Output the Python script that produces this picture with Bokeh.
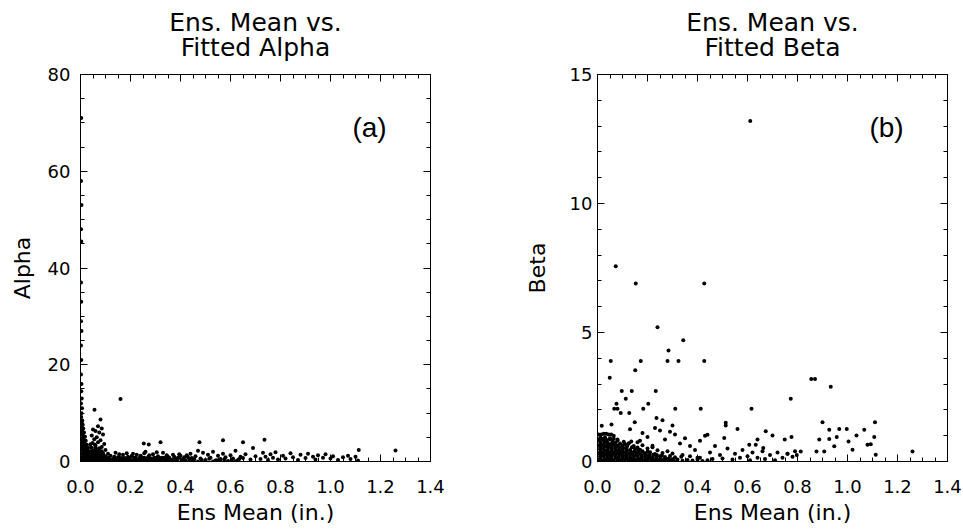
from bokeh.plotting import figure
from bokeh.layouts import row
from bokeh.models import (Range1d, LinearAxis, FixedTicker, Label, Title,
                          CustomLabelingPolicy)
from bokeh.embed import file_html
from bokeh.resources import INLINE

# ---------------- data: panel (a) Ens. Mean vs Fitted Alpha ----------------
alpha_x = [
    0.003, 0.002, 0.004, 0.002, 0.003, 0.002, 0.003, 0.002, 0.004, 0.002, 0.003, 0.002,
    0.004, 0.003, 0.005, 0.002, 0.006, 0.004, 0.003, 0.007, 0.005, 0.009, 0.003, 0.011,
    0.006, 0.014, 0.004, 0.010, 0.018, 0.007, 0.013, 0.021, 0.004, 0.016, 0.009, 0.024,
    0.012, 0.005, 0.019, 0.028, 0.008, 0.015, 0.022, 0.032, 0.006, 0.012, 0.026, 0.018,
    0.035, 0.004, 0.010, 0.022, 0.030, 0.008, 0.016, 0.027, 0.038, 0.005, 0.013, 0.020,
    0.033, 0.040,
    0.160, 0.056, 0.080, 0.070, 0.085, 0.050, 0.060, 0.075, 0.090, 0.045, 0.065, 0.055,
    0.080, 0.070, 0.048, 0.095, 0.060, 0.085, 0.042, 0.075, 0.100, 0.055, 0.068, 0.090,
    0.046, 0.080, 0.100, 0.060, 0.072, 0.050, 0.088, 0.064, 0.095, 0.044, 0.078, 0.110,
    0.105, 0.115,
    0.120, 0.130, 0.140, 0.150, 0.160, 0.170, 0.180, 0.190, 0.200, 0.210, 0.220, 0.230,
    0.240, 0.250, 0.260, 0.270, 0.280, 0.290, 0.300, 0.310, 0.320, 0.330, 0.340, 0.350,
    0.360, 0.370, 0.380, 0.390, 0.400, 0.410, 0.420, 0.430, 0.440, 0.450,
    0.125, 0.135, 0.145, 0.155, 0.165, 0.175, 0.185, 0.195, 0.205, 0.215, 0.225, 0.235,
    0.245, 0.255, 0.265, 0.275, 0.285, 0.295, 0.305, 0.315, 0.325, 0.335, 0.345, 0.355,
    0.365, 0.375, 0.385, 0.395, 0.405, 0.415, 0.425, 0.435, 0.445,
    0.110, 0.140, 0.170, 0.200, 0.230, 0.260, 0.290, 0.320, 0.350, 0.380, 0.410, 0.440,
    0.470, 0.500, 0.530, 0.560, 0.590, 0.620,
    0.253, 0.273, 0.320, 0.476, 0.570, 0.650, 0.736, 1.113, 1.260,
    0.460, 0.470, 0.480, 0.490, 0.500, 0.510, 0.520, 0.530, 0.540, 0.550, 0.560, 0.570,
    0.580, 0.590, 0.600, 0.610, 0.620, 0.630, 0.640, 0.650, 0.660, 0.680, 0.690, 0.700,
    0.720, 0.730, 0.740, 0.750, 0.760, 0.770, 0.780, 0.790, 0.810, 0.820, 0.840, 0.850,
    0.870, 0.880, 0.900, 0.910, 0.930, 0.940, 0.950, 0.970, 0.980, 1.000, 1.010, 1.030,
    1.050, 1.070, 1.080, 1.100, 1.110,
]
alpha_y = [
    71.0, 58.0, 53.0, 48.0, 45.5, 37.0, 33.0, 29.0, 27.0, 24.0, 21.0, 18.0,
    16.0, 14.5, 13.0, 12.0, 11.0, 10.0, 9.2, 8.5, 8.0, 7.6, 7.2, 6.8,
    6.4, 6.0, 5.7, 5.4, 5.1, 4.8, 4.5, 4.3, 4.1, 3.9, 3.6, 3.4,
    3.2, 3.0, 2.8, 2.6, 2.4, 2.2, 2.0, 1.9, 1.7, 1.5, 1.4, 1.2,
    1.1, 0.9, 0.8, 0.7, 0.6, 0.45, 0.35, 0.3, 0.2, 0.15, 0.1, 0.05,
    0.5, 0.9,
    12.9, 10.7, 8.7, 7.3, 6.8, 6.6, 6.3, 6.0, 5.6, 5.4, 5.0, 4.6,
    4.4, 4.0, 3.8, 3.6, 3.3, 3.0, 2.9, 2.6, 2.4, 2.2, 1.9, 1.7,
    1.5, 1.3, 1.1, 1.0, 0.8, 0.6, 0.5, 0.3, 0.2, 0.1, 0.05, 1.6,
    0.7, 0.3,
    1.2, 0.5, 1.8, 0.9, 0.2, 1.4, 0.6, 1.0, 0.3, 1.6, 0.8, 0.1,
    1.2, 0.5, 2.0, 0.9, 0.3, 1.5, 0.7, 1.1, 0.2, 1.8, 0.6, 1.0,
    0.4, 1.4, 0.1, 0.8, 1.2, 0.5, 0.2, 0.9, 1.6, 0.4,
    0.2, 1.0, 0.4, 1.5, 0.7, 0.1, 1.7, 0.4, 1.1, 0.2, 1.4, 0.6,
    0.9, 1.7, 0.2, 1.3, 0.6, 0.1, 1.9, 0.5, 0.8, 0.1, 1.3, 0.7,
    0.2, 1.0, 0.5, 1.5, 0.1, 0.9, 1.3, 0.3, 0.7,
    0.0, 0.05, 0.0, 0.05, 0.0, 0.05, 0.0, 0.05, 0.0, 0.05, 0.0, 0.05,
    0.0, 0.05, 0.0, 0.05, 0.0, 0.05,
    3.7, 3.5, 4.0, 4.0, 4.4, 4.0, 4.5, 2.4, 2.25,
    1.1, 2.2, 0.6, 1.8, 0.3, 1.4, 0.8, 2.0, 0.2, 1.2, 0.5, 1.6,
    0.9, 0.1, 1.3, 0.6, 2.2, 0.3, 1.0, 0.7, 1.5, 0.4, 2.8, 1.1,
    0.5, 1.8, 1.0, 0.3, 1.5, 0.8, 1.9, 0.4, 1.2, 0.6, 1.7, 0.9,
    0.3, 1.4, 0.7, 1.6, 1.0, 0.4, 1.3, 0.8, 1.5, 0.6, 1.1, 0.3,
    0.9, 1.2, 0.5, 1.0, 0.2,
]
# extra points of the dense black cluster near the origin of panel (a)
alpha_dense_x = [
    0.010, 0.020, 0.030, 0.040, 0.050, 0.060, 0.070, 0.080, 0.090, 0.100,
    0.015, 0.025, 0.035, 0.045, 0.055, 0.065, 0.075, 0.085, 0.095,
    0.010, 0.020, 0.030, 0.040, 0.050, 0.060, 0.070, 0.080, 0.090,
    0.015, 0.025, 0.035, 0.045, 0.055, 0.065, 0.075, 0.085,
    0.010, 0.020, 0.030, 0.045, 0.060, 0.075,
    0.012, 0.025, 0.040, 0.058,
    0.105, 0.125, 0.145, 0.165, 0.185, 0.205, 0.225, 0.245, 0.265, 0.285, 0.305, 0.325,
    0.345, 0.365, 0.385, 0.405,
    0.115, 0.135, 0.155, 0.175, 0.195, 0.215, 0.235, 0.255, 0.275, 0.295, 0.315, 0.335,
    0.355, 0.375, 0.395,
    0.455, 0.485, 0.515, 0.545, 0.575, 0.605, 0.635,
]
alpha_dense_y = [
    0.30, 0.25, 0.35, 0.28, 0.32, 0.22, 0.36, 0.27, 0.31, 0.24,
    0.90, 0.95, 0.85, 0.92, 0.88, 0.97, 0.83, 0.91, 0.86,
    1.50, 1.45, 1.55, 1.48, 1.52, 1.42, 1.57, 1.46, 1.53,
    2.10, 2.15, 2.05, 2.12, 2.08, 2.17, 2.03, 2.11,
    2.80, 2.75, 2.85, 2.78, 2.82, 2.72,
    3.50, 3.45, 3.55, 3.48,
    0.25, 0.28, 0.22, 0.26, 0.30, 0.24, 0.27, 0.23, 0.29, 0.25, 0.21, 0.28,
    0.26, 0.22, 0.27, 0.24,
    0.75, 0.72, 0.78, 0.74, 0.70, 0.77, 0.73, 0.79, 0.71, 0.76, 0.72, 0.78,
    0.74, 0.70, 0.75,
    0.45, 0.30, 0.55, 0.25, 0.40, 0.35, 0.50,
]

# ---------------- data: panel (b) Ens. Mean vs Fitted Beta ----------------
beta_x = [
    # outliers
    0.611, 0.073, 0.153, 0.427, 0.240, 0.343, 0.284, 0.053, 0.173, 0.280, 0.324, 0.427,
    0.049, 0.151, 0.855, 0.870, 0.933, 0.097, 0.137, 0.113, 0.233, 0.773, 0.076, 0.203,
    0.067, 0.080, 0.183, 0.311, 0.413, 0.616, 0.093, 0.127, 0.236, 0.149, 0.513, 0.513,
    0.900, 1.110, 0.056, 0.017, 0.560, 0.673, 0.700, 0.967, 0.997, 1.067, 1.036, 1.107,
    0.927, 0.776, 0.749, 0.887, 0.957, 0.927, 1.004, 1.080, 1.093, 1.020, 1.113, 1.260,
    0.947, 0.876, 0.907, 0.813, 0.797, 0.760, 0.780, 0.640, 0.633, 0.663, 0.607, 0.507,
    0.440,
    # flat band near 1
    0.005, 0.015, 0.025, 0.035, 0.045, 0.055, 0.065,
    # dense cluster rows
    0.005, 0.020, 0.035, 0.050, 0.065, 0.080, 0.095, 0.110, 0.125, 0.140, 0.155, 0.170,
    0.185, 0.200, 0.215, 0.230, 0.245, 0.260, 0.275, 0.290, 0.305, 0.320, 0.340, 0.360,
    0.380, 0.400, 0.420, 0.440,
    0.010, 0.025, 0.040, 0.055, 0.070, 0.085, 0.100, 0.115, 0.130, 0.145, 0.160, 0.175,
    0.190, 0.205, 0.220, 0.235, 0.250, 0.270, 0.290, 0.310, 0.335, 0.370, 0.410,
    0.005, 0.020, 0.035, 0.050, 0.065, 0.080, 0.095, 0.110, 0.125, 0.140, 0.155, 0.170,
    0.190, 0.210, 0.230, 0.260, 0.300,
    0.010, 0.025, 0.040, 0.055, 0.070, 0.085, 0.100, 0.115, 0.130, 0.150, 0.170, 0.200,
    0.240,
    0.005, 0.020, 0.035, 0.050, 0.065, 0.080, 0.100, 0.120, 0.145, 0.180, 0.220,
    0.010, 0.025, 0.040, 0.060, 0.080, 0.105, 0.135, 0.170,
    0.012, 0.030, 0.050,
    # scattered mid range
    0.130, 0.180, 0.200, 0.230, 0.250, 0.270, 0.290, 0.310, 0.330, 0.350, 0.370, 0.390,
    0.410, 0.430, 0.450, 0.470, 0.490, 0.520, 0.550, 0.580, 0.600, 0.620, 0.640, 0.660,
    0.690, 0.720, 0.740, 0.760, 0.790, 0.160, 0.220, 0.280, 0.340, 0.400, 0.460, 0.500,
    0.540, 0.570, 0.610, 0.670, 0.710, 0.260, 0.300,
]
beta_y = [
    13.2, 7.57, 6.9, 6.9, 5.2, 4.7, 4.3, 3.9, 3.9, 3.9, 3.9, 3.9,
    3.25, 3.54, 3.2, 3.2, 2.9, 2.73, 2.73, 2.43, 2.73, 2.43, 2.24, 2.24,
    2.04, 2.04, 2.04, 2.04, 2.04, 2.04, 1.88, 1.88, 1.69, 1.52, 1.5, 1.4,
    1.52, 1.52, 1.43, 1.39, 1.26, 1.17, 1.01, 1.26, 1.26, 1.23, 1.01, 0.95,
    1.23, 0.95, 0.85, 0.85, 0.95, 0.87, 0.78, 0.65, 0.67, 0.46, 0.26, 0.39,
    0.59, 0.39, 0.39, 0.39, 0.25, 0.30, 0.18, 0.85, 0.65, 0.52, 0.65, 0.91,
    1.04,
    1.05, 1.05, 1.08, 1.08, 1.05, 1.05, 1.00,
    0.05, 0.03, 0.07, 0.04, 0.06, 0.02, 0.05, 0.08, 0.03, 0.06, 0.04, 0.07,
    0.02, 0.05, 0.08, 0.03, 0.06, 0.04, 0.07, 0.02, 0.05, 0.08, 0.03, 0.06,
    0.04, 0.07, 0.02, 0.05,
    0.18, 0.20, 0.16, 0.19, 0.21, 0.17, 0.18, 0.20, 0.16, 0.19, 0.21, 0.17,
    0.18, 0.22, 0.15, 0.19, 0.20, 0.17, 0.21, 0.16, 0.18, 0.20, 0.15,
    0.32, 0.34, 0.30, 0.33, 0.35, 0.31, 0.32, 0.34, 0.30, 0.33, 0.35, 0.31,
    0.32, 0.36, 0.29, 0.33, 0.31,
    0.47, 0.49, 0.45, 0.48, 0.50, 0.46, 0.47, 0.49, 0.45, 0.48, 0.46, 0.50,
    0.44,
    0.62, 0.64, 0.60, 0.63, 0.65, 0.61, 0.62, 0.64, 0.60, 0.63, 0.61,
    0.78, 0.80, 0.76, 0.79, 0.81, 0.77, 0.78, 0.80,
    0.92, 0.94, 0.90,
    1.25, 1.10, 0.95, 1.30, 1.20, 0.85, 1.15, 1.05, 0.70, 0.90, 0.60, 0.45,
    0.80, 1.00, 0.35, 0.60, 0.25, 0.50, 0.30, 0.45, 0.20, 0.35, 0.15, 0.40,
    0.25, 0.35, 0.15, 0.30, 0.40, 0.75, 0.55, 0.40, 0.25, 0.15, 0.10, 0.12,
    0.08, 0.15, 0.05, 0.10, 0.05, 1.60, 1.40,
]
# extra points of the dense black cluster near the origin of panel (b)
beta_dense_x = [
    0.0125, 0.0275, 0.0425, 0.0575, 0.0725, 0.0875, 0.1025, 0.1175, 0.1325, 0.1475,
    0.1625, 0.1775, 0.1925, 0.2075, 0.2225, 0.2375, 0.2525, 0.2675, 0.2825, 0.2975,
    0.0125, 0.0275, 0.0425, 0.0575, 0.0725, 0.0875, 0.1025, 0.1175, 0.1325, 0.1475,
    0.1625, 0.1775, 0.1925, 0.2075, 0.2225, 0.2375, 0.2575,
    0.0125, 0.0275, 0.0425, 0.0575, 0.0725, 0.0875, 0.1025, 0.1175, 0.1325, 0.1475,
    0.1625, 0.1800, 0.2000,
    0.0125, 0.0275, 0.0425, 0.0575, 0.0725, 0.0875, 0.1025, 0.1175, 0.1375, 0.1600,
    0.0125, 0.0275, 0.0425, 0.0575, 0.0725, 0.0900, 0.1100, 0.1250,
    0.0050, 0.0200, 0.0350, 0.0500, 0.0650, 0.0800,
]
beta_dense_y = [
    0.11, 0.09, 0.12, 0.10, 0.13, 0.09, 0.11, 0.12, 0.10, 0.09,
    0.12, 0.11, 0.10, 0.13, 0.09, 0.11, 0.12, 0.10, 0.11, 0.09,
    0.25, 0.27, 0.24, 0.26, 0.28, 0.25, 0.23, 0.27, 0.26, 0.24,
    0.28, 0.25, 0.27, 0.24, 0.26, 0.25, 0.23,
    0.40, 0.42, 0.39, 0.41, 0.43, 0.40, 0.38, 0.42, 0.41, 0.39,
    0.42, 0.40, 0.38,
    0.55, 0.57, 0.54, 0.56, 0.58, 0.55, 0.53, 0.57, 0.55, 0.54,
    0.70, 0.72, 0.69, 0.71, 0.73, 0.70, 0.68, 0.71,
    0.85, 0.87, 0.84, 0.86, 0.88, 0.85,
]

x_major = [0.0, 0.2, 0.4, 0.6, 0.8, 1.0, 1.2, 1.4]
x_minor = [0.05, 0.10, 0.15, 0.25, 0.30, 0.35, 0.45, 0.50, 0.55, 0.65, 0.70, 0.75,
           0.85, 0.90, 0.95, 1.05, 1.10, 1.15, 1.25, 1.30, 1.35]
x_labels = {0.0: "0.0", 0.2: "0.2", 0.4: "0.4", 0.6: "0.6", 0.8: "0.8",
            1.0: "1.0", 1.2: "1.2", 1.4: "1.4"}
alpha_major = [0, 20, 40, 60, 80]
alpha_minor = [5, 10, 15, 25, 30, 35, 45, 50, 55, 65, 70, 75]
beta_major = [0, 5, 10, 15]
beta_minor = [1, 2, 3, 4, 6, 7, 8, 9, 11, 12, 13, 14]

x_title = "Ens Mean (in.)"
titles_a = ["Ens. Mean vs.", "Fitted Alpha"]
titles_b = ["Ens. Mean vs.", "Fitted Beta"]

FONT = "DejaVu Sans"
FRAME_W, FRAME_H = 350, 387
TOP = 74
H = 529

HIDE_CODE = """
const all = Array.from(indices)
for (const i of all) { indices.unset(i) }
return indices
"""


def style_axis(ax, ticker, show_labels, label_standoff):
    ax.ticker = ticker
    ax.axis_line_color = "black"
    ax.axis_line_width = 1
    ax.major_tick_line_color = "black"
    ax.minor_tick_line_color = "black"
    ax.major_tick_in = 7
    ax.major_tick_out = 0
    ax.minor_tick_in = 4
    ax.minor_tick_out = 0
    ax.major_label_text_font = FONT
    ax.major_label_text_color = "black"
    ax.major_label_text_font_size = "18px"
    ax.major_label_standoff = label_standoff
    if not show_labels:
        ax.major_label_policy = CustomLabelingPolicy(code=HIDE_CODE)
        ax.major_label_text_font_size = "0px"


def make_panel(width, bl, ymax, ymaj, ymin, xs, ys, ylabel, titles, tag, tag_y,
               ylab_standoff, ytick_standoff):
    p = figure(width=width, height=H, x_range=Range1d(0, 1.4), y_range=Range1d(0, ymax),
               output_backend="svg", toolbar_location=None,
               min_border_left=bl, min_border_right=width - bl - FRAME_W,
               min_border_top=TOP, min_border_bottom=H - TOP - FRAME_H,
               x_axis_location=None, y_axis_location=None)
    p.grid.visible = False
    p.outline_line_color = "black"
    p.background_fill_color = "white"
    p.border_fill_color = "white"

    xt = FixedTicker(ticks=x_major, minor_ticks=x_minor)
    yt = FixedTicker(ticks=ymaj, minor_ticks=ymin)

    xb = LinearAxis()
    style_axis(xb, xt, True, 18)
    xb.major_label_overrides = x_labels
    p.add_layout(xb, "below")

    yl = LinearAxis(axis_label=ylabel)
    style_axis(yl, yt, True, ytick_standoff)
    yl.axis_label_text_font = FONT
    yl.axis_label_text_font_size = "22px"
    yl.axis_label_text_font_style = "normal"
    yl.axis_label_text_color = "black"
    yl.axis_label_standoff = ylab_standoff
    p.add_layout(yl, "left")

    # mirrored tick marks on top and right (no labels)
    xa = LinearAxis()
    style_axis(xa, xt, False, 0)
    p.add_layout(xa, "above")
    yr = LinearAxis()
    style_axis(yr, yt, False, 0)
    p.add_layout(yr, "right")

    # invisible spacer between the frame and the two-line title
    sp = LinearAxis()
    style_axis(sp, xt, False, 0)
    sp.axis_line_color = None
    sp.major_tick_line_color = None
    sp.minor_tick_line_color = None
    sp.major_tick_in = 0
    sp.minor_tick_in = 0
    sp.major_tick_out = 13
    p.add_layout(sp, "above")

    p.scatter(xs, ys, marker="circle", size=4.0, color="black", line_width=0)

    # x-axis title below the tick labels
    p.add_layout(Title(text=x_title, align="center", text_font=FONT,
                       text_font_size="22px", text_font_style="normal",
                       text_color="black", standoff=5), "below")
    # two-line title above the frame (second line closest to the frame)
    p.add_layout(Title(text=titles[1], align="center", text_font=FONT,
                       text_font_size="25px", text_font_style="normal",
                       text_color="black", standoff=0), "above")
    p.add_layout(Title(text=titles[0], align="center", text_font=FONT,
                       text_font_size="25px", text_font_style="normal",
                       text_color="black", standoff=-12), "above")

    p.add_layout(Label(x=1.156, y=tag_y, text=tag, text_align="center",
                       text_baseline="middle", text_font="Liberation Sans",
                       text_font_size="28px", text_color="black"))
    return p


p1 = make_panel(488, 80, 80, alpha_major, alpha_minor,
                alpha_x + alpha_dense_x, alpha_y + alpha_dense_y, "Alpha",
                titles_a, "(a)", 69.0, 10, 10)
p2 = make_panel(475, 109, 15, beta_major, beta_minor,
                beta_x + beta_dense_x, beta_y + beta_dense_y, "Beta",
                titles_b, "(b)", 12.95, 17, 5)

layout = row(p1, p2, spacing=0)
open("out.html", "w").write(file_html(layout, INLINE))
